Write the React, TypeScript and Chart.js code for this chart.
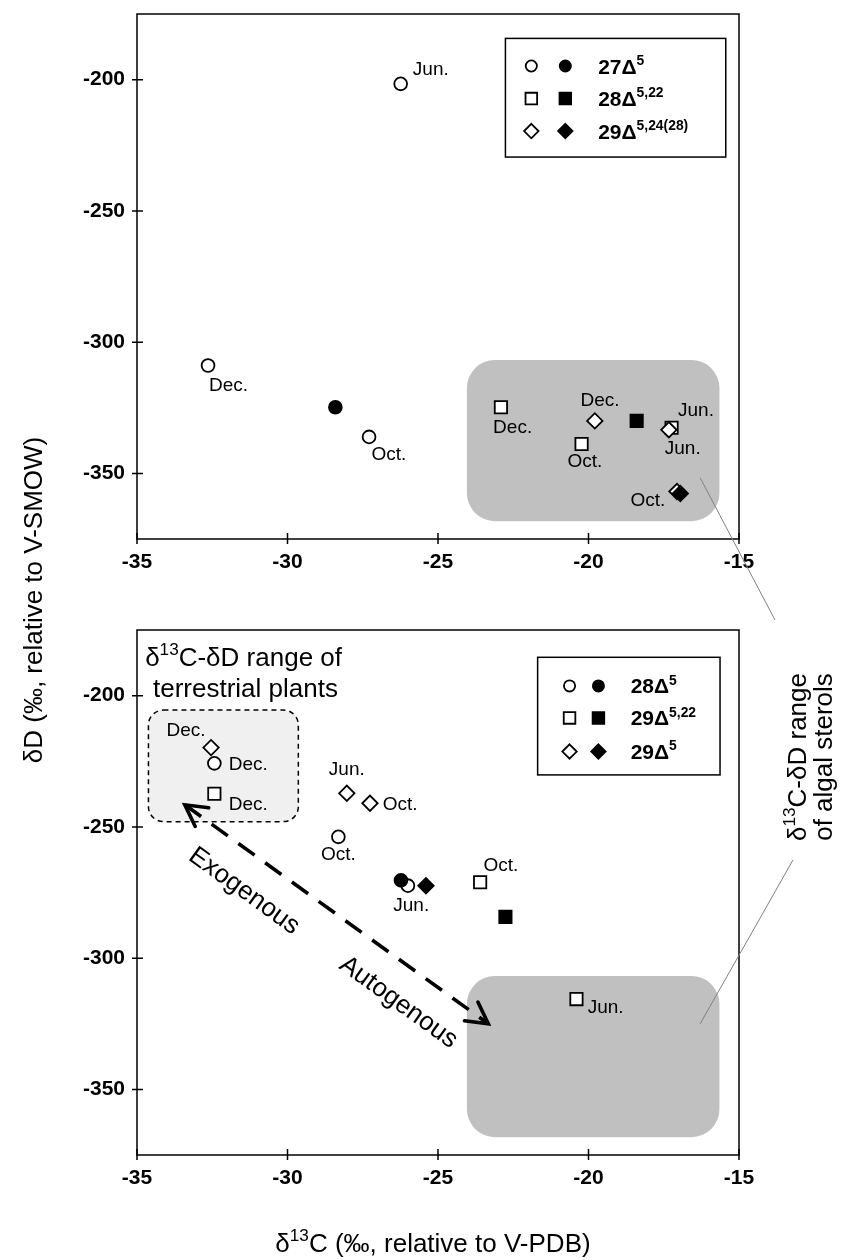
import React, { useEffect, useRef } from 'react';
import { Chart, registerables } from 'chart.js';

Chart.register(...registerables);

const W = 841;
const H = 1260;
const FONT = '"Liberation Sans", Arial, Helvetica, sans-serif';

// ---------- axes ----------
const X_MIN = -35;
const X_MAX = -15;
const Y_MIN = -375;
const Y_MAX = -175;
const X_TICKS = [-35, -30, -25, -20, -15];
const Y_TICKS = [-350, -300, -250, -200];

// ---------- top panel data (δ13C, δD) ----------
const TOP_A_OPEN = [
  { x: -26.24, y: -201.6 },
  { x: -32.64, y: -308.9 },
  { x: -27.29, y: -336.1 },
];
const TOP_A_FILLED = [{ x: -28.41, y: -324.8 }];
const TOP_B_OPEN = [
  { x: -22.91, y: -324.8 },
  { x: -20.23, y: -338.8 },
  { x: -17.24, y: -332.6 },
];
const TOP_B_FILLED = [{ x: -18.4, y: -330.0 }];
const TOP_C_OPEN = [
  { x: -19.79, y: -330.0 },
  { x: -17.33, y: -333.4 },
  { x: -17.06, y: -356.9 },
];
const TOP_C_FILLED = [{ x: -16.95, y: -357.7 }];

// ---------- bottom panel data ----------
const BOT_A_OPEN = [
  { x: -32.43, y: -225.8 },
  { x: -28.31, y: -253.8 },
  { x: -26.0, y: -272.4 },
];
const BOT_A_FILLED = [{ x: -26.23, y: -270.4 }];
const BOT_B_OPEN = [
  { x: -32.43, y: -237.4 },
  { x: -23.6, y: -271.1 },
  { x: -20.4, y: -315.6 },
];
const BOT_B_FILLED = [{ x: -22.76, y: -284.3 }];
const BOT_C_OPEN = [
  { x: -32.54, y: -219.8 },
  { x: -28.03, y: -237.2 },
  { x: -27.26, y: -241.0 },
];
const BOT_C_FILLED = [{ x: -25.4, y: -272.4 }];

// ---------- month labels (anchored in data units) ----------
const TOP_MONTHS = [
  { text: 'Jun.', x: -25.24, y: -195.6 },
  { text: 'Dec.', x: -31.96, y: -316.1 },
  { text: 'Oct.', x: -26.63, y: -342.3 },
  { text: 'Dec.', x: -22.52, y: -332.0 },
  { text: 'Dec.', x: -19.62, y: -321.7 },
  { text: 'Oct.', x: -20.12, y: -344.9 },
  { text: 'Jun.', x: -16.43, y: -325.5 },
  { text: 'Jun.', x: -16.87, y: -340.2 },
  { text: 'Oct.', x: -18.03, y: -359.8 },
];
const BOT_MONTHS = [
  { text: 'Dec.', x: -33.37, y: -212.8 },
  { text: 'Dec.', x: -31.3, y: -225.8 },
  { text: 'Dec.', x: -31.3, y: -241.0 },
  { text: 'Jun.', x: -28.03, y: -227.7 },
  { text: 'Oct.', x: -26.26, y: -241.0 },
  { text: 'Oct.', x: -28.31, y: -260.2 },
  { text: 'Jun.', x: -25.89, y: -279.6 },
  { text: 'Oct.', x: -22.91, y: -264.3 },
  { text: 'Jun.', x: -19.43, y: -318.3 },
];

// ---------- legend texts ----------
type Seg = { t: string; sup?: boolean };
const TOP_LEGEND: Seg[][] = [
  [{ t: '27Δ' }, { t: '5', sup: true }],
  [{ t: '28Δ' }, { t: '5,22', sup: true }],
  [{ t: '29Δ' }, { t: '5,24(28)', sup: true }],
];
const BOT_LEGEND: Seg[][] = [
  [{ t: '28Δ' }, { t: '5', sup: true }],
  [{ t: '29Δ' }, { t: '5,22', sup: true }],
  [{ t: '29Δ' }, { t: '5', sup: true }],
];
const LEGEND_STYLES = ['circle', 'rect', 'rectRot'];

// ---------- regions (data units) ----------
const ALGAL_BOX = { x0: -24.04, x1: -15.65, y0: -306.8, y1: -368.2 };
const TERR_BOX = { x0: -34.62, x1: -29.64, y0: -205.5, y1: -248.0 };
const ARROW = { x0: -33.41, y0: -241.6, x1: -23.33, y1: -325.0 };

// ---------- layout ----------
const PLOT_LEFT = 137;
const PLOT_RIGHT = 739;
const X_AXIS_H = 40;
const TOP_AREA = { top: 14, bottom: 539 };
const BOT_AREA = { top: 630, bottom: 1155 };

const CIRCLE_R = 6.4;
const SQUARE_R = 8.7;
const DIAMOND_R = 7.7;
const MARK_BW = 1.8;

function radiusFor(style: string) {
  return style === 'circle' ? CIRCLE_R : style === 'rect' ? SQUARE_R : DIAMOND_R;
}

function ds(data: any[], style: string, filled: boolean, order: number) {
  const r = radiusFor(style);
  return {
    data,
    showLine: false,
    pointStyle: style,
    pointRadius: r,
    pointHoverRadius: r,
    pointBackgroundColor: filled ? '#000' : '#fff',
    pointBorderColor: '#000',
    pointBorderWidth: MARK_BW,
    order,
  };
}

function roundRectPath(ctx: CanvasRenderingContext2D, x: number, y: number, w: number, h: number, r: number) {
  ctx.beginPath();
  ctx.moveTo(x + r, y);
  ctx.lineTo(x + w - r, y);
  ctx.arcTo(x + w, y, x + w, y + r, r);
  ctx.lineTo(x + w, y + h - r);
  ctx.arcTo(x + w, y + h, x + w - r, y + h, r);
  ctx.lineTo(x + r, y + h);
  ctx.arcTo(x, y + h, x, y + h - r, r);
  ctx.lineTo(x, y + r);
  ctx.arcTo(x, y, x + r, y, r);
  ctx.closePath();
}

function drawRich(
  ctx: CanvasRenderingContext2D,
  segs: Seg[],
  x: number,
  y: number,
  size: number,
  weight: string,
  align: 'left' | 'center',
  angle = 0,
) {
  ctx.save();
  ctx.translate(x, y);
  ctx.rotate(angle);
  const supSize = size * 0.66;
  let total = 0;
  const widths: number[] = [];
  for (const s of segs) {
    ctx.font = `${weight} ${s.sup ? supSize : size}px ${FONT}`;
    const w = ctx.measureText(s.t).width;
    widths.push(w);
    total += w;
  }
  let cx = align === 'center' ? -total / 2 : 0;
  const base = size * 0.36;
  ctx.textAlign = 'left';
  ctx.textBaseline = 'alphabetic';
  ctx.fillStyle = '#000';
  segs.forEach((s, i) => {
    ctx.font = `${weight} ${s.sup ? supSize : size}px ${FONT}`;
    ctx.fillText(s.t, cx, s.sup ? base - size * 0.42 : base);
    cx += widths[i];
  });
  ctx.restore();
}

function drawMarker(ctx: CanvasRenderingContext2D, style: string, x: number, y: number, r: number, filled: boolean) {
  ctx.save();
  ctx.beginPath();
  if (style === 'circle') {
    ctx.arc(x, y, r, 0, Math.PI * 2);
  } else if (style === 'rect') {
    const s = r * Math.SQRT1_2;
    ctx.rect(x - s, y - s, 2 * s, 2 * s);
  } else {
    ctx.moveTo(x, y - r);
    ctx.lineTo(x + r, y);
    ctx.lineTo(x, y + r);
    ctx.lineTo(x - r, y);
    ctx.closePath();
  }
  ctx.fillStyle = filled ? '#000' : '#fff';
  ctx.fill();
  ctx.lineWidth = MARK_BW;
  ctx.strokeStyle = '#000';
  ctx.stroke();
  ctx.restore();
}

function drawAlgalBox(chart: any) {
  const { ctx, scales } = chart;
  const x0 = scales.x.getPixelForValue(ALGAL_BOX.x0);
  const x1 = scales.x.getPixelForValue(ALGAL_BOX.x1);
  const y0 = scales.y.getPixelForValue(ALGAL_BOX.y0);
  const y1 = scales.y.getPixelForValue(ALGAL_BOX.y1);
  ctx.save();
  roundRectPath(ctx, x0, y0, x1 - x0, y1 - y0, 28);
  ctx.fillStyle = '#c0c0c0';
  ctx.fill();
  ctx.restore();
}

function drawFrame(chart: any) {
  const { ctx, chartArea: a, scales } = chart;
  ctx.save();
  ctx.strokeStyle = '#000';
  ctx.lineWidth = 1.5;
  ctx.strokeRect(a.left, a.top, a.right - a.left, a.bottom - a.top);
  ctx.beginPath();
  for (const v of X_TICKS) {
    const px = scales.x.getPixelForValue(v);
    ctx.moveTo(px, a.bottom - 6);
    ctx.lineTo(px, a.bottom + 5);
  }
  for (const v of Y_TICKS) {
    const py = scales.y.getPixelForValue(v);
    ctx.moveTo(a.left - 5, py);
    ctx.lineTo(a.left + 6, py);
  }
  ctx.stroke();
  ctx.restore();
}

function drawMonths(chart: any, list: { text: string; x: number; y: number }[]) {
  const { ctx, scales } = chart;
  for (const m of list) {
    drawRich(ctx, [{ t: m.text }], scales.x.getPixelForValue(m.x), scales.y.getPixelForValue(m.y), 19, 'normal', 'center');
  }
}

function drawLegend(
  chart: any,
  box: { x0: number; x1: number; y0: number; y1: number },
  rows: number[],
  cols: { open: number; filled: number; text: number },
  texts: Seg[][],
) {
  const { ctx, scales } = chart;
  const X = (v: number) => scales.x.getPixelForValue(v);
  const Y = (v: number) => scales.y.getPixelForValue(v);
  ctx.save();
  ctx.fillStyle = '#fff';
  ctx.fillRect(X(box.x0), Y(box.y0), X(box.x1) - X(box.x0), Y(box.y1) - Y(box.y0));
  ctx.strokeStyle = '#000';
  ctx.lineWidth = 1.5;
  ctx.strokeRect(X(box.x0), Y(box.y0), X(box.x1) - X(box.x0), Y(box.y1) - Y(box.y0));
  ctx.restore();
  const lr: Record<string, number> = { circle: 5.6, rect: 8.2, rectRot: 7.2 };
  rows.forEach((ry, i) => {
    const st = LEGEND_STYLES[i];
    drawMarker(ctx, st, X(cols.open), Y(ry), lr[st], false);
    drawMarker(ctx, st, X(cols.filled), Y(ry), lr[st], true);
    drawRich(ctx, texts[i], X(cols.text), Y(ry), 21, 'bold', 'left');
  });
}

function drawArrowHead(ctx: CanvasRenderingContext2D, x: number, y: number, dir: number) {
  const L = 24;
  const a = 0.5;
  ctx.beginPath();
  ctx.moveTo(x + L * Math.cos(dir - a), y + L * Math.sin(dir - a));
  ctx.lineTo(x, y);
  ctx.lineTo(x + L * Math.cos(dir + a), y + L * Math.sin(dir + a));
  ctx.stroke();
}

function makeConfig(panel: 'top' | 'bottom', topChart?: any) {
  const isTop = panel === 'top';
  const area = isTop ? TOP_AREA : BOT_AREA;
  const datasets = isTop
    ? [
        ds(TOP_C_FILLED, 'rectRot', true, 0),
        ds(TOP_B_FILLED, 'rect', true, 1),
        ds(TOP_A_FILLED, 'circle', true, 2),
        ds(TOP_C_OPEN, 'rectRot', false, 3),
        ds(TOP_B_OPEN, 'rect', false, 4),
        ds(TOP_A_OPEN, 'circle', false, 5),
      ]
    : [
        ds(BOT_C_FILLED, 'rectRot', true, 0),
        ds(BOT_B_FILLED, 'rect', true, 1),
        ds(BOT_A_FILLED, 'circle', true, 2),
        ds(BOT_C_OPEN, 'rectRot', false, 3),
        ds(BOT_B_OPEN, 'rect', false, 4),
        ds(BOT_A_OPEN, 'circle', false, 5),
      ];

  const tickFont = { family: FONT, size: 21, weight: 'bold' as const, lineHeight: 1.2 };

  const panelPlugin = {
    id: 'panel-' + panel,
    beforeDatasetsDraw(chart: any) {
      const { ctx, scales } = chart;
      const X = (v: number) => scales.x.getPixelForValue(v);
      const Y = (v: number) => scales.y.getPixelForValue(v);
      drawAlgalBox(chart);
      if (!isTop) {
        // terrestrial plants region
        ctx.save();
        roundRectPath(ctx, X(TERR_BOX.x0), Y(TERR_BOX.y0), X(TERR_BOX.x1) - X(TERR_BOX.x0), Y(TERR_BOX.y1) - Y(TERR_BOX.y0), 15);
        ctx.fillStyle = '#f0f0f0';
        ctx.fill();
        ctx.setLineDash([5, 4]);
        ctx.lineWidth = 1.5;
        ctx.strokeStyle = '#000';
        ctx.stroke();
        ctx.restore();
        drawRich(ctx, [{ t: 'δ' }, { t: '13', sup: true }, { t: 'C-δD range of' }], X(-34.73), Y(-185.3), 26, 'normal', 'left');
        drawRich(ctx, [{ t: 'terrestrial plants' }], X(-34.47), Y(-197.1), 26, 'normal', 'left');

        // dashed double arrow
        const ax0 = X(ARROW.x0), ay0 = Y(ARROW.y0), ax1 = X(ARROW.x1), ay1 = Y(ARROW.y1);
        const ang = Math.atan2(ay1 - ay0, ax1 - ax0);
        ctx.save();
        ctx.strokeStyle = '#000';
        ctx.lineWidth = 3.6;
        ctx.setLineDash([20, 13]);
        ctx.beginPath();
        ctx.moveTo(ax0, ay0);
        ctx.lineTo(ax1, ay1);
        ctx.stroke();
        ctx.setLineDash([]);
        ctx.lineCap = 'round';
        drawArrowHead(ctx, ax0, ay0, ang);
        drawArrowHead(ctx, ax1, ay1, ang + Math.PI);
        ctx.restore();
        drawRich(ctx, [{ t: 'Exogenous' }], X(-31.4), Y(-273.8), 26, 'normal', 'center', ang);
        drawRich(ctx, [{ t: 'Autogenous' }], X(-26.27), Y(-316.2), 26, 'normal', 'center', ang);
      }
    },
    afterDraw(chart: any) {
      const { ctx } = chart;
      drawFrame(chart);
      if (isTop) {
        drawMonths(chart, TOP_MONTHS);
        drawLegend(
          chart,
          { x0: -22.76, x1: -15.44, y0: -184.3, y1: -229.5 },
          [-194.8, -207.2, -219.6],
          { open: -21.9, filled: -20.77, text: -19.68 },
          TOP_LEGEND,
        );
      } else {
        drawMonths(chart, BOT_MONTHS);
        drawLegend(
          chart,
          { x0: -21.69, x1: -15.63, y0: -185.4, y1: -230.2 },
          [-196.3, -208.5, -221.3],
          { open: -20.63, filled: -19.67, text: -18.6 },
          BOT_LEGEND,
        );
        // shared axis titles
        drawRich(ctx, [{ t: 'δ' }, { t: '13', sup: true }, { t: 'C (‰, relative to V-PDB)' }], 433, 1243, 26, 'normal', 'center');
        drawRich(ctx, [{ t: 'δD (‰, relative to V-SMOW)' }], 33, 600, 26, 'normal', 'center', -Math.PI / 2);
        // algal sterols note with connector lines
        drawRich(ctx, [{ t: 'δ' }, { t: '13', sup: true }, { t: 'C-δD range' }], 797, 757, 26, 'normal', 'center', -Math.PI / 2);
        drawRich(ctx, [{ t: 'of algal sterols' }], 823, 757, 26, 'normal', 'center', -Math.PI / 2);
        ctx.save();
        ctx.strokeStyle = '#808080';
        ctx.lineWidth = 1;
        ctx.beginPath();
        if (topChart) {
          ctx.moveTo(topChart.scales.x.getPixelForValue(-16.29), topChart.scales.y.getPixelForValue(-351.7));
          ctx.lineTo(775, 620);
        }
        ctx.moveTo(793, 860);
        ctx.lineTo(chart.scales.x.getPixelForValue(-16.29), chart.scales.y.getPixelForValue(-325.0));
        ctx.stroke();
        ctx.restore();
      }
    },
  };

  return {
    type: 'scatter' as const,
    data: { datasets },
    options: {
      animation: false as const,
      responsive: false,
      events: [],
      layout: {
        padding: {
          left: 0,
          right: W - PLOT_RIGHT,
          top: area.top,
          bottom: H - area.bottom - X_AXIS_H,
        },
      },
      plugins: { legend: { display: false }, tooltip: { enabled: false } },
      scales: {
        x: {
          type: 'linear' as const,
          position: 'bottom' as const,
          min: X_MIN,
          max: X_MAX,
          afterBuildTicks: (s: any) => {
            s.ticks = X_TICKS.map((v) => ({ value: v }));
          },
          afterFit: (s: any) => {
            s.height = X_AXIS_H;
            s.paddingLeft = 0;
            s.paddingRight = 0;
          },
          grid: { display: false, drawTicks: false },
          border: { display: false },
          ticks: { padding: 11, color: '#000', font: tickFont, maxRotation: 0, autoSkip: false, callback: (v: any) => String(v) },
        },
        y: {
          type: 'linear' as const,
          position: 'left' as const,
          min: Y_MIN,
          max: Y_MAX,
          afterBuildTicks: (s: any) => {
            s.ticks = Y_TICKS.map((v) => ({ value: v }));
          },
          afterFit: (s: any) => {
            s.width = PLOT_LEFT;
            s.paddingTop = 0;
            s.paddingBottom = 0;
          },
          grid: { display: false, drawTicks: false },
          border: { display: false },
          ticks: { padding: 12, color: '#000', font: tickFont, autoSkip: false, callback: (v: any) => String(v) },
        },
      },
    },
    plugins: [panelPlugin],
  };
}

export default function App() {
  const topRef = useRef<HTMLCanvasElement>(null);
  const botRef = useRef<HTMLCanvasElement>(null);

  useEffect(() => {
    const top = new Chart(topRef.current as HTMLCanvasElement, makeConfig('top') as any);
    const bot = new Chart(botRef.current as HTMLCanvasElement, makeConfig('bottom', top) as any);
    return () => {
      bot.destroy();
      top.destroy();
    };
  }, []);

  const cs: React.CSSProperties = { position: 'absolute', left: 0, top: 0, width: W, height: H };
  return (
    <div style={{ position: 'absolute', left: 0, top: 0, width: W, height: H, background: '#fff' }}>
      <canvas ref={topRef} width={W} height={H} style={cs} />
      <canvas ref={botRef} width={W} height={H} style={cs} />
    </div>
  );
}
